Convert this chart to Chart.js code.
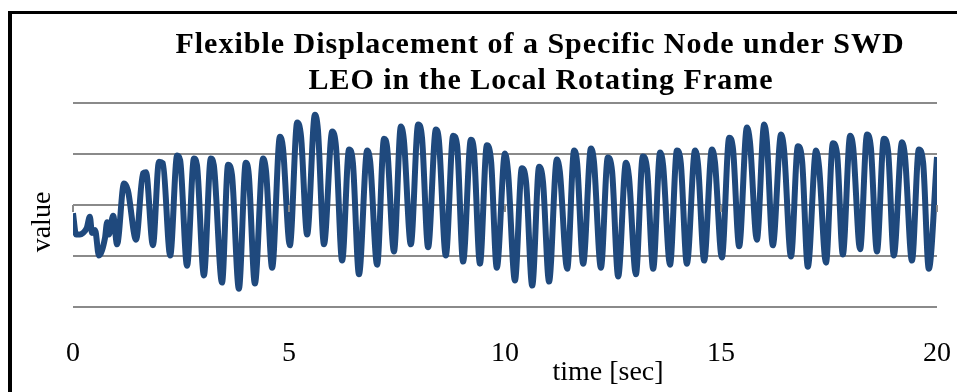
<!DOCTYPE html>
<html>
<head>
<meta charset="utf-8">
<title>Flexible Displacement</title>
<script src="https://cdn.jsdelivr.net/npm/chart.js@4.4.0/dist/chart.umd.min.js"></script>
<style>
  html, body { margin: 0; padding: 0; background: #fff; }
  canvas { display: block; }
</style>
</head>
<body>
<canvas id="dispChart" width="957" height="392"></canvas>
<script>
var titleLines = ["Flexible Displacement of a Specific Node under SWD", "LEO in the Local Rotating Frame"];
var xTitle = "time [sec]";
var yTitle = "value";
var xTicks = [0, 5, 10, 15, 20];

// time [sec] of each turning point of the trace
var times = [0, 0.07, 0.16, 0.23, 0.32, 0.39, 0.44, 0.51, 0.60, 0.74, 0.79, 0.83, 0.93, 1.02,
  1.18, 1.27, 1.46, 1.62, 1.69, 1.85, 1.99, 2.08, 2.25, 2.41, 2.48, 2.64, 2.80, 2.87, 3.03,
  3.19, 3.26, 3.45, 3.59, 3.68, 3.84, 4.00, 4.07, 4.21, 4.40, 4.47, 4.61, 4.79, 4.86, 5.02,
  5.19, 5.28, 5.42, 5.60, 5.67, 5.81, 6.00, 6.09, 6.23, 6.39, 6.48, 6.62, 6.81, 6.88, 7.04,
  7.20, 7.27, 7.43, 7.59, 7.66, 7.82, 7.99, 8.08, 8.22, 8.40, 8.47, 8.63, 8.80, 8.89, 9.03,
  9.21, 9.28, 9.42, 9.58, 9.68, 9.81, 10.00, 10.07, 10.23, 10.39, 10.49, 10.63, 10.79, 10.88, 11.02,
  11.20, 11.27, 11.44, 11.60, 11.67, 11.81, 11.99, 12.06, 12.22, 12.38, 12.48, 12.62, 12.80, 12.87, 13.03,
  13.19, 13.29, 13.43, 13.59, 13.66, 13.82, 13.98, 14.07, 14.21, 14.40, 14.47, 14.61, 14.79, 14.86, 15.02,
  15.19, 15.28, 15.42, 15.60, 15.67, 15.83, 16.00, 16.06, 16.20, 16.39, 16.46, 16.62, 16.78, 16.88, 17.01,
  17.20, 17.27, 17.43, 17.59, 17.69, 17.82, 17.99, 18.06, 18.22, 18.38, 18.47, 18.61, 18.77, 18.87, 19.00,
  19.19, 19.26, 19.42, 19.58, 19.68, 19.81, 20.00];

// displacement at those times
var values = [-0.16, -0.58, -0.58, -0.55, -0.45, -0.23, -0.55, -0.49, -0.99, -0.65, -0.34, -0.58, -0.21, -0.77,
  0.42, 0.29, -0.68, 0.62, 0.64, -0.79, 0.85, 0.82, -0.99, 0.97, 0.88, -1.19, 0.91, 0.78, -1.38,
  0.91, 0.78, -1.52, 0.79, 0.59, -1.64, 0.83, 0.59, -1.54, 0.91, 0.65, -1.23, 1.34, 1.12, -0.79,
  1.62, 1.33, -0.58, 1.77, 1.47, -0.77, 1.44, 1.12, -1.09, 1.09, 0.82, -1.36, 1.07, 0.84, -1.17,
  1.30, 1.14, -0.91, 1.54, 1.27, -0.77, 1.58, 1.31, -0.83, 1.48, 1.27, -0.99, 1.36, 1.18, -1.11,
  1.28, 1.08, -1.15, 1.17, 0.84, -1.23, 1.01, 0.65, -1.48, 0.72, 0.43, -1.58, 0.75, 0.45, -1.50,
  0.89, 0.65, -1.25, 1.07, 0.82, -1.15, 1.11, 0.84, -1.23, 0.93, 0.65, -1.40, 0.83, 0.55, -1.36,
  0.95, 0.69, -1.25, 1.03, 0.78, -1.17, 1.07, 0.82, -1.15, 1.07, 0.78, -1.09, 1.09, 0.84, -1.03,
  1.32, 1.08, -0.81, 1.52, 1.24, -0.68, 1.58, 1.27, -0.79, 1.38, 1.08, -1.01, 1.15, 0.84, -1.21,
  1.07, 0.75, -1.13, 1.21, 0.98, -0.97, 1.36, 1.12, -0.87, 1.38, 1.12, -0.91, 1.30, 1.04, -0.99,
  1.23, 0.94, -1.09, 1.09, 0.82, -1.25, 0.94];

var serif = "'Liberation Serif', 'Times New Roman', serif";

// frame, axis tick marks at zero and all the text
var decorations = {
    id: "decorations",
    afterDraw: function (chart) {
        var ctx = chart.ctx;
        var xs = chart.scales.x;
        var ys = chart.scales.y;
        ctx.save();

        ctx.fillStyle = "#000";
        ctx.fillRect(8, 11, 4, 400);
        ctx.fillRect(8, 11, 960, 3);

        var y0 = ys.getPixelForValue(0);
        ctx.strokeStyle = "#8a8a8a";
        ctx.lineWidth = 2;
        ctx.beginPath();
        for (var i = 0; i < xTicks.length; i++) {
            var px = xs.getPixelForValue(xTicks[i]);
            ctx.moveTo(px, y0);
            ctx.lineTo(px, y0 + 7);
        }
        ctx.stroke();

        ctx.fillStyle = "#000";
        ctx.textAlign = "center";
        ctx.textBaseline = "alphabetic";
        ctx.font = "bold 30px " + serif;
        ctx.letterSpacing = "1px";
        ctx.fillText(titleLines[0], 540, 53);
        ctx.fillText(titleLines[1], 541, 89);
        ctx.letterSpacing = "0px";

        ctx.font = "28px " + serif;
        ctx.fillText(xTitle, 608, 380);

        ctx.translate(50, 222);
        ctx.rotate(-Math.PI / 2);
        ctx.fillText(yTitle, 0, 0);
        ctx.restore();
    }
};

init();

function init() {
    var points = [];
    for (var i = 0; i < times.length; i++) {
        points.push({ x: times[i], y: values[i] });
    }
    showChart(points);
}

function showChart(points) {
    var ctx = document.getElementById("dispChart").getContext("2d");
    new Chart(ctx, {
        type: "line",
        data: {
            datasets: [
                {
                    data: points,
                    borderColor: "#1F497D",
                    borderWidth: 6,
                    pointRadius: 0,
                    cubicInterpolationMode: "monotone",
                    borderJoinStyle: "round",
                    borderCapStyle: "butt",
                    fill: false
                }
            ]
        },
        options: {
            responsive: false,
            animation: false,
            layout: { padding: { left: 73, right: 20, top: 103, bottom: 0 } },
            plugins: {
                legend: { display: false },
                title: { display: false },
                tooltip: { enabled: false }
            },
            scales: {
                x: {
                    type: "linear",
                    min: 0,
                    max: 20,
                    afterBuildTicks: function (scale) {
                        scale.ticks = xTicks.map(function (v) { return { value: v }; });
                    },
                    afterFit: function (scale) {
                        scale.paddingLeft = 0;
                        scale.paddingRight = 0;
                        scale.height = 85;
                    },
                    grid: { display: false, drawTicks: false },
                    border: { display: false },
                    ticks: {
                        padding: 30,
                        color: "#000",
                        maxRotation: 0,
                        font: { family: serif, size: 28 }
                    }
                },
                y: {
                    min: -2,
                    max: 2,
                    ticks: { display: false, stepSize: 1 },
                    grid: { color: "#8a8a8a", lineWidth: 2, drawTicks: false },
                    border: { display: false }
                }
            }
        },
        plugins: [decorations]
    });
}
</script>
</body>
</html>
